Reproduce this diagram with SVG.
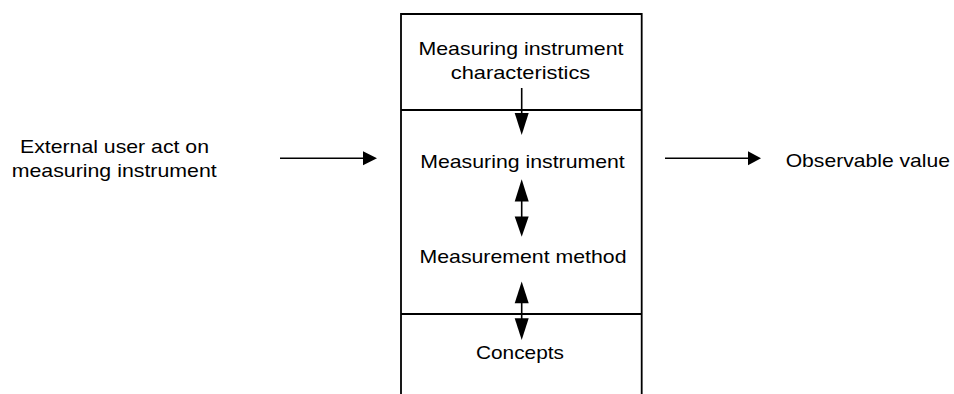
<svg xmlns="http://www.w3.org/2000/svg" width="954" height="394" viewBox="0 0 954 394">
<style>
text{font-family:"Liberation Sans",Arial,sans-serif;font-size:19px;fill:#000}
.c{text-anchor:middle}
.box{fill:none;stroke:#000;stroke-width:1.8}
.ln{stroke:#000;stroke-width:1.6;fill:none}
.hd{fill:#000;stroke:none}
</style>
<rect width="954" height="394" fill="#fff"/>
<g id="stack">
<path class="box" d="M401,400 V14 H641.7 V400"/>
<line class="box" x1="401" y1="110" x2="641.7" y2="110"/>
<line class="box" x1="401" y1="314" x2="641.7" y2="314"/>
</g>
<g id="characteristics">
<text class="c" x="521" y="55" textLength="205" lengthAdjust="spacingAndGlyphs">Measuring instrument</text>
<text class="c" x="520.5" y="78.5" textLength="139.5" lengthAdjust="spacingAndGlyphs">characteristics</text>
</g>
<g id="instrument">
<text class="c" x="522.5" y="167.7" textLength="204.5" lengthAdjust="spacingAndGlyphs">Measuring instrument</text>
</g>
<g id="method">
<text class="c" x="523" y="263.3" textLength="207" lengthAdjust="spacingAndGlyphs">Measurement method</text>
</g>
<g id="concepts">
<text class="c" x="520" y="359.3" textLength="88" lengthAdjust="spacingAndGlyphs">Concepts</text>
</g>
<g id="external">
<text class="c" x="114.5" y="153.3" textLength="189" lengthAdjust="spacingAndGlyphs">External user act on</text>
<text class="c" x="114.2" y="176.7" textLength="205" lengthAdjust="spacingAndGlyphs">measuring instrument</text>
</g>
<g id="observable">
<text x="785.7" y="166.7" textLength="164.3" lengthAdjust="spacingAndGlyphs">Observable value</text>
</g>
<g id="connectors">
<line class="ln" x1="521.7" y1="88" x2="521.7" y2="114"/>
<polygon class="hd" points="514.7,113 528.7,113 521.7,135"/>
<line class="ln" x1="521.7" y1="200" x2="521.7" y2="218"/>
<polygon class="hd" points="521.7,179.3 528.7,201.5 514.7,201.5"/>
<polygon class="hd" points="514.7,216.5 528.7,216.5 521.7,236.7"/>
<line class="ln" x1="521.7" y1="302" x2="521.7" y2="320"/>
<polygon class="hd" points="521.7,281.5 528.7,303.3 514.7,303.3"/>
<polygon class="hd" points="514.7,318.3 528.7,318.3 521.7,340"/>
<line class="ln" x1="280" y1="158.3" x2="365" y2="158.3"/>
<polygon class="hd" points="363,151.3 377,158.3 363,165.3"/>
<line class="ln" x1="665" y1="158.3" x2="750" y2="158.3"/>
<polygon class="hd" points="748,151.3 761,158.3 748,165.3"/>
</g>
</svg>
